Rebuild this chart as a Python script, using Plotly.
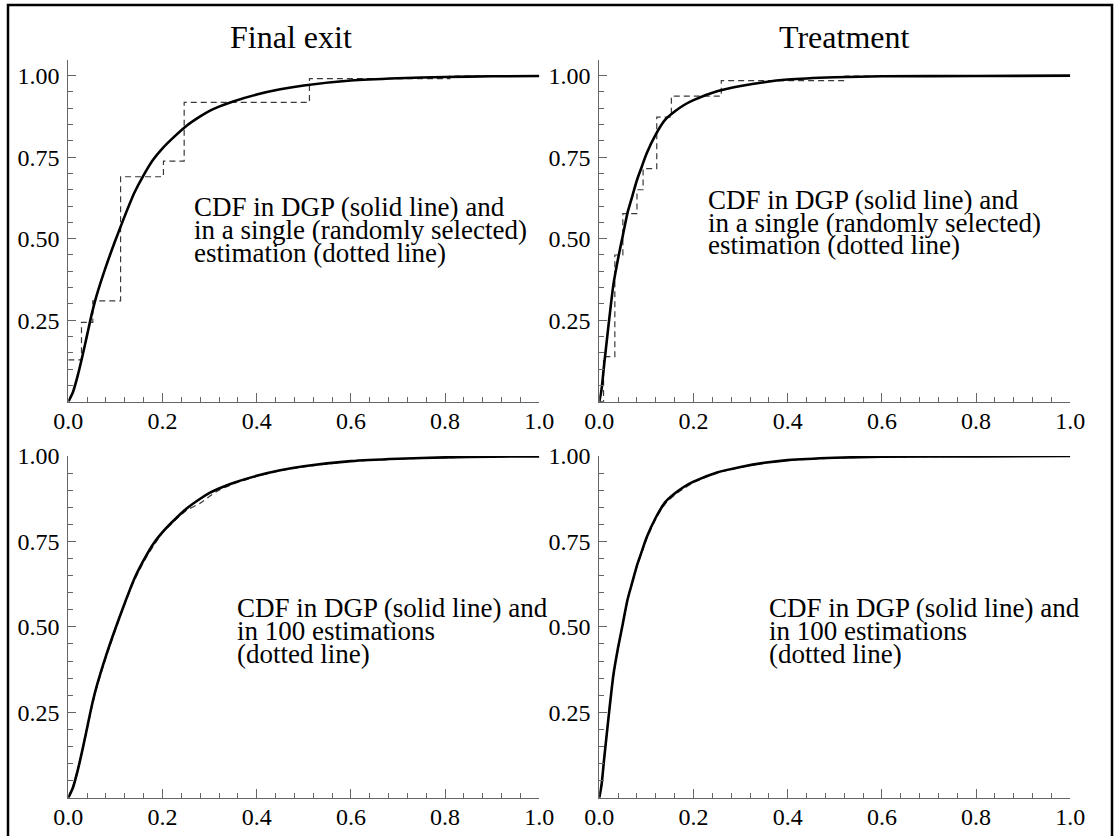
import plotly.graph_objects as go

FONT = "Liberation Serif, Times New Roman, serif"

# ---------------- data ----------------
# Final exit: DGP CDF (solid)
x_exit = [0, 0.01, 0.02, 0.03, 0.04, 0.05, 0.06, 0.08, 0.10, 0.12, 0.14, 0.16, 0.18,
          0.20, 0.22, 0.25, 0.28, 0.30, 0.32, 0.35, 0.40, 0.45, 0.50, 0.60, 0.70,
          0.80, 0.90, 1.00]
cdf_exit_dgp = [0, 0.03, 0.08, 0.14, 0.205, 0.27, 0.325, 0.415, 0.495, 0.57, 0.64, 0.695,
                0.742, 0.777, 0.806, 0.845, 0.875, 0.892, 0.905, 0.921, 0.942, 0.958,
                0.97, 0.985, 0.992, 0.996, 0.998, 0.999]
# Final exit: mean over 100 estimations (dotted)
cdf_exit_100 = [0, 0.035, 0.085, 0.14, 0.2, 0.265, 0.32, 0.41, 0.49, 0.568, 0.635, 0.69,
                0.735, 0.775, 0.803, 0.84, 0.862, 0.882, 0.9, 0.918, 0.94, 0.957,
                0.968, 0.984, 0.991, 0.995, 0.998, 0.999]
# Final exit: single estimation (step function)
x_exit_single = [0, 0.028, 0.052, 0.111, 0.202, 0.246, 0.512, 0.81, 1.0]
cdf_exit_single = [0.128, 0.243, 0.309, 0.69, 0.738, 0.918, 0.991, 0.999, 0.999]

# Treatment: DGP CDF (solid)
x_treat = [0, 0.005, 0.01, 0.02, 0.03, 0.04, 0.05, 0.06, 0.07, 0.08, 0.09, 0.10, 0.12,
           0.14, 0.16, 0.18, 0.20, 0.25, 0.30, 0.35, 0.40, 0.50, 0.60, 0.80, 1.00]
cdf_treat_dgp = [0, 0.04, 0.11, 0.24, 0.36, 0.44, 0.51, 0.58, 0.63, 0.68, 0.72, 0.76,
                 0.82, 0.865, 0.89, 0.91, 0.925, 0.952, 0.968, 0.98, 0.988, 0.995,
                 0.998, 0.999, 1.0]
cdf_treat_100 = [0, 0.042, 0.112, 0.24, 0.355, 0.44, 0.508, 0.578, 0.628, 0.676, 0.716,
                 0.755, 0.816, 0.86, 0.886, 0.905, 0.922, 0.95, 0.967, 0.979, 0.987,
                 0.994, 0.997, 0.999, 1.0]
x_treat_single = [0, 0.009, 0.033, 0.050, 0.080, 0.093, 0.122, 0.153, 0.259, 0.522, 1.0]
cdf_treat_single = [0.0, 0.138, 0.45, 0.577, 0.65, 0.715, 0.873, 0.937, 0.985, 0.999, 0.999]

titles = ["Final exit", "Treatment"]
note_single = ["CDF in DGP (solid line) and",
               "in a single (randomly selected)",
               "estimation (dotted line)"]
note_100 = ["CDF in DGP (solid line) and",
            "in 100 estimations",
            "(dotted line)"]

x_ticks = [0, 0.2, 0.4, 0.6, 0.8, 1.0]
x_ticktext = ["0.0", "0.2", "0.4", "0.6", "0.8", "1.0"]
y_ticks = [0.25, 0.5, 0.75, 1.0]
y_ticktext = ["0.25", "0.50", "0.75", "1.00"]

# ---------------- layout geometry ----------------
W, H = 1116, 836
def px_x(p):
    return p / W
def px_y(p):
    return (H - p) / H

x_dom_left = [px_x(68.3), px_x(539.3)]
x_dom_right = [px_x(599.3), px_x(1070.3)]
y_dom_top = [px_y(401.7), px_y(60)]
y_dom_bot = [px_y(797.7), px_y(456)]

AX_COLOR = "#666666"

def make_x(domain, anchor):
    return dict(domain=domain, anchor=anchor, range=[0, 1], tickmode="array",
                tickvals=x_ticks, ticktext=x_ticktext, ticks="inside", ticklen=9,
                tickwidth=1, tickcolor=AX_COLOR, showline=True, linecolor=AX_COLOR,
                linewidth=1.2, showgrid=False, zeroline=False, ticklabelstandoff=-3,
                automargin=False,
                tickfont=dict(family=FONT, size=24, color="black"),
                minor=dict(ticks="inside", ticklen=5, tick0=0, dtick=0.04,
                           tickcolor=AX_COLOR, tickwidth=1, showgrid=False),
                fixedrange=True)

def make_y(domain, anchor, top):
    return dict(domain=domain, anchor=anchor, range=[0, top], tickmode="array",
                tickvals=y_ticks, ticktext=y_ticktext, ticks="inside", ticklen=8,
                tickwidth=1, tickcolor=AX_COLOR, showline=True, linecolor=AX_COLOR,
                linewidth=1.2, showgrid=False, zeroline=False, ticklabelstandoff=3,
                automargin=False,
                tickfont=dict(family=FONT, size=24, color="black"),
                minor=dict(ticks="inside", ticklen=5, tick0=0, dtick=0.05,
                           tickcolor=AX_COLOR, tickwidth=1, showgrid=False),
                fixedrange=True)

fig = go.Figure()

SOLID = dict(color="black", width=2.6)
DASHED = dict(color="#3a3a3a", width=1.2, dash="6px,4px")

# top-left
fig.add_trace(go.Scatter(x=x_exit_single, y=cdf_exit_single, mode="lines",
                         line=dict(shape="hv", **DASHED), xaxis="x", yaxis="y"))
fig.add_trace(go.Scatter(x=x_exit, y=cdf_exit_dgp, mode="lines",
                         line=dict(shape="spline", smoothing=0.6, **SOLID),
                         xaxis="x", yaxis="y"))
# top-right
fig.add_trace(go.Scatter(x=x_treat_single, y=cdf_treat_single, mode="lines",
                         line=dict(shape="hv", **DASHED), xaxis="x2", yaxis="y2"))
fig.add_trace(go.Scatter(x=x_treat, y=cdf_treat_dgp, mode="lines",
                         line=dict(shape="spline", smoothing=0.6, **SOLID),
                         xaxis="x2", yaxis="y2"))
# bottom-left
fig.add_trace(go.Scatter(x=x_exit, y=cdf_exit_100, mode="lines",
                         line=dict(shape="spline", smoothing=0.6, **DASHED),
                         xaxis="x3", yaxis="y3"))
fig.add_trace(go.Scatter(x=x_exit, y=cdf_exit_dgp, mode="lines",
                         line=dict(shape="spline", smoothing=0.6, **SOLID),
                         xaxis="x3", yaxis="y3"))
# bottom-right
fig.add_trace(go.Scatter(x=x_treat, y=cdf_treat_100, mode="lines",
                         line=dict(shape="spline", smoothing=0.6, **DASHED),
                         xaxis="x4", yaxis="y4"))
fig.add_trace(go.Scatter(x=x_treat, y=cdf_treat_dgp, mode="lines",
                         line=dict(shape="spline", smoothing=0.6, **SOLID),
                         xaxis="x4", yaxis="y4"))

annotations = []
# panel titles
for t, cx in zip(titles, [291, 844]):
    annotations.append(dict(text=t, x=px_x(cx), y=px_y(37), xref="paper", yref="paper",
                            xanchor="center", yanchor="middle", showarrow=False,
                            font=dict(family=FONT, size=32, color="black")))
# notes (one annotation per line for tight line spacing)
def add_note(lines, x_left, centers):
    for ln, cy in zip(lines, centers):
        annotations.append(dict(text=ln, x=px_x(x_left), y=px_y(cy), xref="paper",
                                yref="paper", xanchor="left", yanchor="middle",
                                showarrow=False, borderpad=0,
                                font=dict(family=FONT, size=27, color="black")))

add_note(note_single, 193, [207, 230, 253])
add_note(note_single, 707, [200, 222.5, 245])
add_note(note_100, 236, [608, 631, 654])
add_note(note_100, 768, [608, 631, 654])

fig.update_layout(
    width=W, height=H,
    margin=dict(l=0, r=0, t=0, b=0, pad=0, autoexpand=False),
    paper_bgcolor="white", plot_bgcolor="white",
    showlegend=False,
    xaxis=make_x(x_dom_left, "y"),
    yaxis=make_y(y_dom_top, "x", 1.048),
    xaxis2=make_x(x_dom_right, "y2"),
    yaxis2=make_y(y_dom_top, "x2", 1.048),
    xaxis3=make_x(x_dom_left, "y3"),
    yaxis3=make_y(y_dom_bot, "x3", 1.0),
    xaxis4=make_x(x_dom_right, "y4"),
    yaxis4=make_y(y_dom_bot, "x4", 1.0),
    annotations=annotations,
    shapes=[dict(type="rect", xref="paper", yref="paper",
                 x0=px_x(8), x1=px_x(1112), y0=-0.05, y1=px_y(5),
                 line=dict(color="black", width=2.5), fillcolor="rgba(0,0,0,0)",
                 layer="above")],
)

fig.write_html("out.html", config={"displayModeBar": False})
